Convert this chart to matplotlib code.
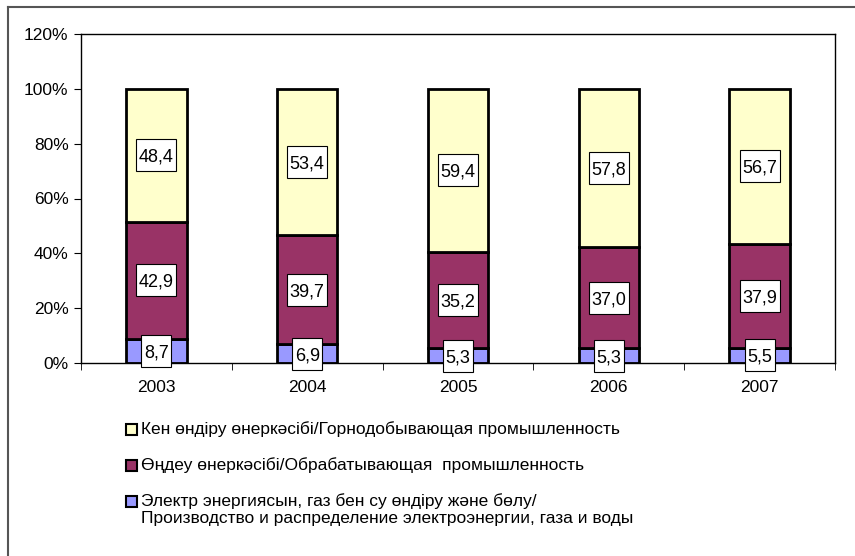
import numpy as np
import matplotlib.pyplot as plt
from matplotlib.lines import Line2D
from matplotlib.patches import Rectangle
from matplotlib.transforms import ScaledTranslation

plt.rcParams['font.family'] = ['Liberation Sans', 'DejaVu Sans']

years = ["2003", "2004", "2005", "2006", "2007"]
electro = [8.7, 6.9, 5.3, 5.3, 5.5]
manuf = [42.9, 39.7, 35.2, 37.0, 37.9]
mining = [48.4, 53.4, 59.4, 57.8, 56.7]

labels = [
    "Кен өндіру өнеркәсібі/Горнодобывающая промышленность",
    "Өңдеу өнеркәсібі/Обрабатывающая  промышленность",
    "Электр энергиясын, газ бен су өндіру және бөлу/\nПроизводство и распределение электроэнергии, газа и воды",
]
colors = ["#FFFFCC", "#993366", "#9999FF"]

series = np.array([electro, manuf, mining])
pct = series / series.sum(axis=0) * 100

W, H = 855, 556
fig = plt.figure(figsize=(W / 100, H / 100), dpi=100)
ax = fig.add_axes([81 / W, 1 - 363 / H, 754 / W, 329 / H])

x = np.arange(len(years))
bottom = np.zeros(len(years))
for vals, raw, col in zip(pct, series, colors[::-1]):
    ax.bar(x, vals, 0.4, bottom=bottom, color=col, edgecolor="black", linewidth=2)
    for xi, b, v, r in zip(x, bottom, vals, raw):
        s = f"{r:.1f}".replace(".", ",")
        # label box sized in inches, centred on the segment middle
        tr = fig.dpi_scale_trans + ScaledTranslation(xi, b + v / 2, ax.transData)
        w = 0.40 if len(s) == 4 else 0.30
        ax.add_patch(Rectangle((-w / 2, -0.16), w, 0.32, transform=tr, fc="white",
                               ec="black", lw=0.8, zorder=3, clip_on=False))
        ax.text(0, -0.065, s, transform=tr, ha="center", va="baseline",
                fontsize=13, zorder=4)
    bottom += vals

ax.set_xlim(-0.5, len(years) - 0.5)
ax.set_ylim(0, 120)
ax.set_yticks(range(0, 121, 20))
ax.set_yticklabels([f"{v}%" for v in range(0, 121, 20)], fontsize=12.5)
ax.set_xticks(x)
ax.set_xticklabels(years, fontsize=12.5)
ax.set_xticks(np.arange(-0.5, len(years), 1), minor=True)
ax.tick_params(axis="x", which="major", length=0, pad=12)
ax.tick_params(axis="x", which="minor", length=5, direction="out")
ax.tick_params(axis="y", length=5, direction="out", pad=4)
for sp in ax.spines.values():
    sp.set_linewidth(1)

# legend drawn by hand so the square sits on the first line of each entry
leg_y = [430, 466, 502]
for lab, col, yy in zip(labels, colors, leg_y):
    fig.add_artist(Rectangle((126 / W, 1 - (yy + 5) / H), 11 / W, 11 / H,
                             transform=fig.transFigure, fc=col, ec="black", lw=1.5))
    fig.text(141 / W, 1 - (yy - 9) / H, lab, ha="left", va="top", fontsize=12.5,
             linespacing=1.15)

# outer chart frame (only top and left edges visible)
fig.add_artist(Line2D([8 / W, 8 / W], [0.0, 1 - 7 / H], color="#555555", lw=1.5))
fig.add_artist(Line2D([8 / W, 1.0], [1 - 7 / H, 1 - 7 / H], color="#555555", lw=1.5))

fig.savefig("out.png")
